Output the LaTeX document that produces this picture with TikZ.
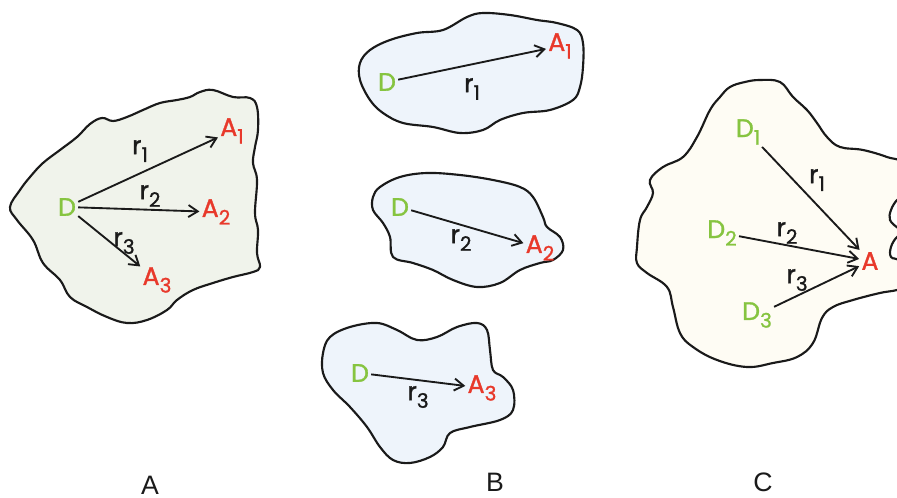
\documentclass[tikz,border=0pt]{standalone}
\usepackage{fontspec}
\newfontfamily\lblfont[FakeBold=1.2]{Poppins}
\newfontfamily\capfont{Liberation Sans}
\definecolor{Dcol}{HTML}{86C440}
\definecolor{Acol}{HTML}{E8392B}
\definecolor{Textcol}{HTML}{1A1A1A}
\definecolor{Afill}{HTML}{F0F3EB}
\definecolor{Bfill}{HTML}{EEF4FB}
\definecolor{Cfill}{HTML}{FEFCF4}
\usetikzlibrary{arrows.meta}
\newcommand{\lowsub}[1]{\raisebox{-0.55ex}{\fontsize{15}{15}\selectfont #1}}
\tikzset{
    >={Straight Barb[length=7pt,width=9pt]},
    font=\lblfont\fontsize{19}{22}\selectfont,
    blob/.style={draw=Textcol, line width=1.6pt, line join=round},
    dlab/.style={text=Dcol, inner sep=1.5pt},
    alab/.style={text=Acol, inner sep=1.5pt},
    rlab/.style={text=Textcol, inner sep=0pt},
    ray/.style={->, line width=1.4pt, draw=Textcol},
    caption/.style={font=\capfont\fontsize{20}{24}\selectfont, text=Textcol, inner sep=0pt}
}

\begin{document}
\begin{tikzpicture}[x=0.75pt, y=-0.75pt]
    \useasboundingbox (0,0) rectangle (897,498);

    % Region A: one donor, three acceptors
    \draw[blob, fill=Afill] plot[smooth cycle, tension=0.65] coordinates {
        (10,207) (20,190) (30,177) (43,163) (60,150) (77,137) (90,124) (102,118)
        (113,121) (127,117) (143,110) (160,103) (177,100) (190,97) (200,92)
        (213,90) (233,97) (250,98) (257,107) (258,130) (255,147) (253,163)
        (257,180) (255,213) (258,230) (257,253) (260,267) (253,272) (233,277)
        (213,283) (193,290) (177,300) (167,310) (147,320) (127,323) (107,317)
        (87,307) (70,297) (60,280) (43,263) (33,240) (17,220)};
    \node[dlab] (dA) at (67,207) {D};
    \node[alab] (a1A) at (232,131) {A\lowsub{1}};
    \node[alab] (a2A) at (216,212) {A\lowsub{2}};
    \node[alab] (a3A) at (157,280) {A\lowsub{3}};
    \draw[ray] (dA) -- (a1A);
    \draw[ray] (dA) -- (a2A);
    \draw[ray] (dA) -- (a3A);
    \node[rlab] (r1A) at (140,151) {r\lowsub{1}};
    \node[rlab] (r2A) at (150,196) {r\lowsub{2}};
    \node[rlab] (r3A) at (124,243) {r\lowsub{3}};

    % Region B: three separate pairs
    \draw[blob, fill=Bfill] plot[smooth cycle, tension=0.6] coordinates {
        (370,50) (390,40) (417,33) (443,30) (467,17) (483,13) (510,15) (537,20)
        (557,23) (577,30) (583,43) (583,67) (580,87) (573,100) (550,110)
        (523,113) (500,120) (483,130) (460,133) (433,127) (403,123) (383,113)
        (370,100) (360,80) (360,63)};
    \node[dlab] (dB1) at (387,82) {D};
    \node[alab] (a1B) at (560,46) {A\lowsub{1}};
    \draw[ray] (dB1) -- (a1B);
    \node[rlab] (r1B) at (472,89) {r\lowsub{1}};

    \draw[blob, fill=Bfill] plot[smooth cycle, tension=0.6] coordinates {
        (380,187) (400,177) (427,173) (460,175) (493,180) (520,187) (533,197)
        (543,217) (547,227) (560,237) (563,250) (553,260) (540,263) (520,270)
        (500,283) (477,287) (453,280) (433,270) (413,263) (393,257) (390,237)
        (383,223) (373,210) (373,197)};
    \node[dlab] (dB2) at (400,207) {D};
    \node[alab] (a2B) at (540,248) {A\lowsub{2}};
    \draw[ray] (dB2) -- (a2B);
    \node[rlab] (r2B) at (461,240) {r\lowsub{2}};

    \draw[blob, fill=Bfill] plot[smooth cycle, tension=0.6] coordinates {
        (330,337) (350,327) (377,323) (397,330) (417,340) (437,337) (457,327)
        (477,323) (487,330) (490,350) (493,370) (503,377) (513,390) (513,410)
        (500,420) (470,427) (450,433) (443,447) (430,457) (410,463) (393,460)
        (380,447) (367,427) (350,407) (333,390) (323,373) (323,353)};
    \node[dlab] (dB3) at (360,373) {D};
    \node[alab] (a3B) at (482,388) {A\lowsub{3}};
    \draw[ray] (dB3) -- (a3B);
    \node[rlab] (r3B) at (418,397) {r\lowsub{3}};

    % Region C: three donors, one acceptor
    \draw[blob, fill=Cfill] plot[smooth cycle, tension=0.65] coordinates {
        (720,97) (730,87) (745,82) (760,80) (780,82) (793,97) (807,110)
        (817,123) (827,137) (840,147) (863,150) (887,157) (905,165) (905,195)
        (897,200) (891,210) (890,220) (898,228) (906,232) (897,237) (891,247)
        (891,257) (900,262) (908,285) (897,290) (880,293) (853,300) (833,307)
        (822,318) (813,343) (797,357) (773,363) (747,367) (717,360) (693,347)
        (680,333) (673,307) (667,287) (647,273) (637,263) (637,247) (640,220)
        (647,207) (653,193) (650,180) (663,167) (683,157) (697,137) (710,110)};
    \node[dlab] (d1C) at (748,132) {D\lowsub{1}};
    \node[dlab] (d2C) at (722,233) {D\lowsub{2}};
    \node[dlab] (d3C) at (757,315) {D\lowsub{3}};
    \node[alab] (aC) at (870,261) {A};
    \draw[ray] (d1C) -- (aC);
    \draw[ray] (d2C) -- (aC);
    \draw[ray] (d3C) -- (aC);
    \node[rlab] (r1C) at (817,180) {r\lowsub{1}};
    \node[rlab] (r2C) at (787,233) {r\lowsub{2}};
    \node[rlab] (r3C) at (797,280) {r\lowsub{3}};

    % Captions
    \node[caption] (capA) at (150,485) {A};
    \node[caption] (capB) at (495,482) {B};
    \node[caption] (capC) at (763,482) {C};
\end{tikzpicture}
\end{document}
